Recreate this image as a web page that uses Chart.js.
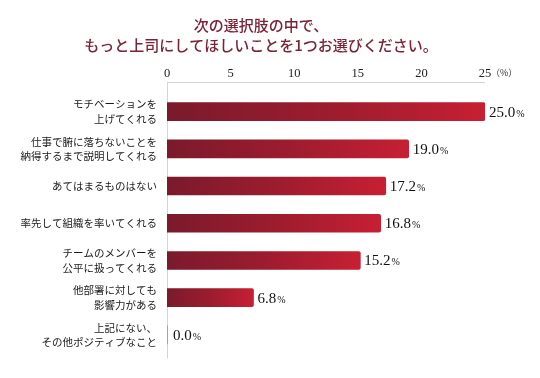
<!DOCTYPE html>
<html>
<head>
<meta charset="utf-8">
<script src="https://cdn.jsdelivr.net/npm/chart.js@4"></script>
<style>
html,body{margin:0;padding:0;background:#fff;}
canvas{display:block;}
</style>
</head>
<body>
<canvas id="c" width="540" height="378"></canvas>
<script>
const titleLines = ['次の選択肢の中で、', 'もっと上司にしてほしいことを1つお選びください。'];
const categories = [
  ['モチベーションを', '上げてくれる'],
  ['仕事で腑に落ちないことを', '納得するまで説明してくれる'],
  'あてはまるものはない',
  '率先して組織を率いてくれる',
  ['チームのメンバーを', '公平に扱ってくれる'],
  ['他部署に対しても', '影響力がある'],
  ['上記にない、', 'その他ポジティブなこと']
];
const values = [25.0, 19.0, 17.2, 16.8, 15.2, 6.8, 0.0];
const xTicks = [0, 5, 10, 15, 20, 25];
const unitLabel = '（%）';

const JP = '"Noto Sans CJK JP", "Noto Sans", sans-serif';
const SERIF = '"Liberation Serif", "DejaVu Serif", serif';

function barGradient(ctx) {
  const chart = ctx.chart;
  const area = chart.chartArea;
  if (!area) return '#a01c2e';
  const xs = chart.scales.x;
  const x0 = xs.getPixelForValue(0);
  let x1 = xs.getPixelForValue(ctx.raw ?? 0);
  if (x1 - x0 < 2) x1 = x0 + 2;
  const g = chart.ctx.createLinearGradient(x0, 0, x1, 0);
  g.addColorStop(0, '#7a1a2c');
  g.addColorStop(0.5, '#9c1c2e');
  g.addColorStop(1, '#c71f33');
  return g;
}

const decoPlugin = {
  id: 'deco',
  beforeDatasetsDraw(chart) {
    const c = chart.ctx;
    const xs = chart.scales.x;
    const area = chart.chartArea;
    const x0 = xs.getPixelForValue(0);
    const xEnd = xs.getPixelForValue(xTicks[xTicks.length - 1]);
    c.save();
    c.strokeStyle = '#d4d4d4';
    c.lineWidth = 1;
    c.beginPath();
    c.moveTo(x0, area.top - 11 + 0.5);
    c.lineTo(xEnd, area.top - 11 + 0.5);
    c.stroke();
    c.beginPath();
    c.moveTo(Math.round(x0) + 0.5, area.top - 11);
    c.lineTo(Math.round(x0) + 0.5, area.bottom + 5);
    c.stroke();
    c.restore();
  },
  afterDraw(chart) {
    const c = chart.ctx;
    const xs = chart.scales.x;
    c.save();
    // title
    c.fillStyle = '#7b2336';
    c.font = '500 15px ' + JP;
    c.textAlign = 'center';
    c.textBaseline = 'middle';
    c.fillText(titleLines[0], 261, 25);
    c.fillText(titleLines[1], 261, 45);
    // unit label after last tick
    c.fillStyle = '#333';
    c.font = '9px ' + JP;
    c.textAlign = 'left';
    c.fillText(unitLabel, xs.getPixelForValue(25) + 6, 73);
    // value labels
    const meta = chart.getDatasetMeta(0);
    meta.data.forEach((bar, i) => {
      const v = values[i];
      const num = v.toFixed(1);
      const x = bar.x + (v === 0 ? 6 : 4);
      const y = bar.y + 5;
      c.textBaseline = 'alphabetic';
      c.fillStyle = '#111';
      c.font = '15px ' + SERIF;
      c.fillText(num, x, y);
      const w = c.measureText(num).width;
      c.font = '10px ' + SERIF;
      c.fillText('%', x + w + 1, y);
    });
    c.restore();
  }
};

new Chart(document.getElementById('c'), {
  type: 'bar',
  data: {
    labels: categories,
    datasets: [{
      data: values,
      backgroundColor: barGradient,
      borderRadius: 2,
      borderSkipped: 'start',
      barThickness: 18
    }]
  },
  options: {
    indexAxis: 'y',
    responsive: false,
    devicePixelRatio: 1,
    animation: false,
    layout: { padding: { top: 63, bottom: 20, left: 0, right: 55 } },
    plugins: { legend: { display: false }, tooltip: { enabled: false }, title: { display: false } },
    scales: {
      x: {
        position: 'top',
        min: 0,
        max: 25,
        afterBuildTicks(scale) { scale.ticks = xTicks.map(v => ({ value: v })); },
        afterFit(scale) { scale.height = 30; },
        grid: { display: false, drawTicks: false },
        border: { display: false },
        ticks: {
          padding: 12,
          color: '#222',
          font: { family: SERIF, size: 12.5 },
          maxRotation: 0
        }
      },
      y: {
        afterFit(scale) { scale.width = 167; },
        grid: { display: false, drawTicks: false },
        border: { display: false },
        ticks: {
          padding: 10,
          color: '#1a1a1a',
          font: { family: JP, size: 10.5, lineHeight: 1.38 }
        }
      }
    }
  },
  plugins: [decoPlugin]
});
</script>
</body>
</html>
